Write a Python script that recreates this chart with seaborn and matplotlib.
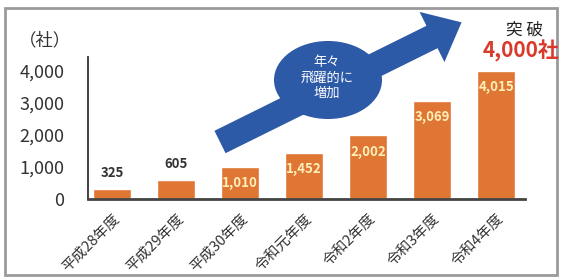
import matplotlib
matplotlib.use('Agg')
import matplotlib.pyplot as plt
import seaborn as sns
import numpy as np
import pandas as pd
from matplotlib.patches import Polygon, Ellipse, Rectangle

# ---- data ----
categories = ['平成28年度', '平成29年度', '平成30年度', '令和元年度', '令和2年度', '令和3年度', '令和4年度']
values = [325, 605, 1010, 1452, 2002, 3069, 4015]
value_labels = ['325', '605', '1,010', '1,452', '2,002', '3,069', '4,015']
yticks = [0, 1000, 2000, 3000, 4000]
ytick_labels = ['0', '1,000', '2,000', '3,000', '4,000']
unit_label = '（社）'
blob_text = '年々\n飛躍的に\n増加'
callout_top = '突 破'
callout_main = '4,000社'

sns.set_style('white')
plt.rcParams['font.family'] = ['Noto Sans CJK JP', 'DejaVu Sans']

W, H = 564, 278
fig = plt.figure(figsize=(W / 100, H / 100), dpi=100)
fig.patch.set_facecolor('white')

ax = fig.add_axes([88 / W, 79 / H, 437 / W, 142 / H])
df = pd.DataFrame({'cat': categories, 'val': values})
bar_color = '#DF7634'
sns.barplot(data=df, x='cat', y='val', color=bar_color, saturation=1, width=0.6, ax=ax, zorder=2)

ax.set_ylim(0, 142 / 0.032)
ax.set_xlim(-0.375, 6.45)
ax.set_xlabel('')
ax.set_ylabel('')
ax.set_yticks(yticks)
ax.set_yticklabels(ytick_labels, fontsize=13, color='#333333')
ax.set_xticks(range(len(categories)))
ax.set_xticklabels(categories, rotation=45, ha='right', rotation_mode='anchor',
                   fontsize=10.5, color='#333333')
for lbl in ax.get_xticklabels():
    lbl.set_x(lbl.get_position()[0])
ax.tick_params(axis='y', direction='out', length=5, width=1.2, color='#333333', pad=12)
ax.tick_params(axis='x', length=0, pad=9)
for s in ['top', 'right']:
    ax.spines[s].set_visible(False)
ax.spines['left'].set_color('#333333')
ax.spines['left'].set_linewidth(1.3)
ax.spines['bottom'].set_color('#444444')
ax.spines['bottom'].set_linewidth(2)
ax.patch.set_alpha(0)

for i, (v, lab) in enumerate(zip(values, value_labels)):
    if v < 700:
        ax.annotate(lab, (i, v), xytext=(0, 6), textcoords='offset points',
                    ha='center', va='bottom', fontsize=9.5, fontweight='bold', color='#333333')
    else:
        ax.annotate(lab, (i, v), xytext=(0, -12), textcoords='offset points',
                    ha='center', va='center', fontsize=9.5, fontweight='bold', color='#FFEFB8')

# ---- overlay in pixel coordinates (y down) ----
ov = fig.add_axes([0, 0, 1, 1], zorder=5)
ov.set_xlim(0, W)
ov.set_ylim(H, 0)
ov.axis('off')
ov.patch.set_alpha(0)

ov.add_patch(Rectangle((5, 8), 552, 267, fill=False, edgecolor='#9a9a9a', linewidth=2))

blue = '#2D5AA6'
tail = np.array([220.0, 142.0])
base = np.array([432.0, 37.0])
d = base - tail
d = d / np.linalg.norm(d)
n = np.array([-d[1], d[0]])
hw = 12.5
head_hw = 28
head_len = 33
tip = base + d * head_len
shape = [tail + n * hw, base + n * hw, base + n * head_hw, tip,
         base - n * head_hw, base - n * hw, tail - n * hw]
ov.add_patch(Polygon(shape, closed=True, facecolor=blue, edgecolor='none'))
ov.add_patch(Ellipse((328, 80), 108, 78, facecolor=blue, edgecolor='none'))
ov.text(327, 78, blob_text, ha='center', va='center', fontsize=9.5, color='white',
        linespacing=1.25)

ov.text(45, 40, unit_label, ha='center', va='center', fontsize=12.5, color='#333333')
ov.text(525, 30, callout_top, ha='center', va='center', fontsize=12, color='#222222')
ov.text(521, 51, callout_main, ha='center', va='center', fontsize=15, fontweight='bold',
        color='#D93A2B')

fig.savefig('out.png', dpi=100)
